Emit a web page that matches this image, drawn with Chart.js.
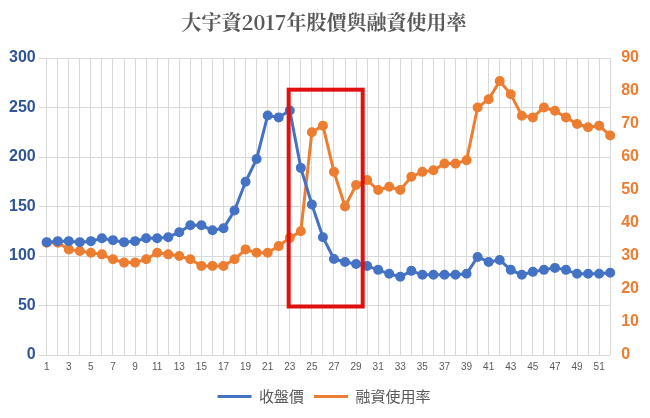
<!DOCTYPE html><html><head><meta charset="utf-8"><script src="https://cdn.jsdelivr.net/npm/chart.js@4"></script>
<style>body{margin:0;background:#fff}#w{width:650px;height:418px}</style></head><body><div id="w"><canvas id="c"></canvas></div>
<script>
const labels=Array.from({length:52},(_,i)=>String(i+1));
const closePrice=[114,115,115,114,115,118,116,114,115,118,118,119,124,131,131,126,128,146,175,198,242,240,247,189,152,119,97,94,92,90,86,82,79,85,81,81,81,81,82,99,94,96,86,81,84,86,88,86,82,82,82,83];
const marginRate=[34,34,32,31.5,31,30.5,29,28,28,29,31,30.5,30,29,27,27,27,29,32,31,31,33,35.5,37.5,67.5,69.5,55.5,45,51.5,53,50,51,50,54,55.5,56,58,58,59,75,77.5,83,79,72.5,72,75,74,72,70,69,69.5,66.5];
const boxRange=[22.9,29.6,49,268];
const boxPlugin={id:'box',afterDatasetsDraw(ch){const x=ch.scales.x,y=ch.scales.y,c=ch.ctx;
const x0=x.getPixelForValue(boxRange[0]-1),x1=x.getPixelForValue(boxRange[1]-1),y0=y.getPixelForValue(boxRange[3]),y1=y.getPixelForValue(boxRange[2]);
c.save();c.strokeStyle='#e01010';c.lineWidth=4;c.strokeRect(x0,y0,x1-x0,y1-y0);c.restore();}};
new Chart(document.getElementById('c'),{type:'line',data:{labels,datasets:[
{label:'收盤價',data:closePrice,borderColor:'#4472c4',backgroundColor:'#4472c4',borderWidth:3,pointRadius:3.5,yAxisID:'y'},
{label:'融資使用率',data:marginRate,borderColor:'#ed7d31',backgroundColor:'#ed7d31',borderWidth:3,pointRadius:3.5,yAxisID:'y1'}]},
options:{responsive:true,maintainAspectRatio:false,animation:false,layout:{padding:{left:6,right:8,top:6,bottom:4}},
plugins:{title:{display:true,text:'大宇資2017年股價與融資使用率',font:{size:20,family:'Noto Serif CJK TC, Noto Sans CJK TC'},color:'#595959',padding:{top:4,bottom:24}},
legend:{position:'bottom',labels:{usePointStyle:true,pointStyle:'line',pointStyleWidth:34,font:{size:15,family:'Noto Sans CJK TC'},color:'#595959'}}},
scales:{x:{grid:{color:'#d9d9d9',drawTicks:false},border:{display:false},ticks:{autoSkip:false,maxRotation:0,padding:6,font:{size:10},color:'#595959',callback:(v,i)=>i%2===0?labels[i]:''}},
y:{min:0,max:300,ticks:{stepSize:50,font:{size:16,weight:'bold'},color:'#2f5597'},grid:{color:'#d9d9d9'},border:{display:false}},
y1:{position:'right',min:0,max:90,ticks:{stepSize:10,font:{size:16,weight:'bold'},color:'#ed7d31'},grid:{display:false},border:{display:false}}}},
plugins:[boxPlugin]});
</script></body></html>
